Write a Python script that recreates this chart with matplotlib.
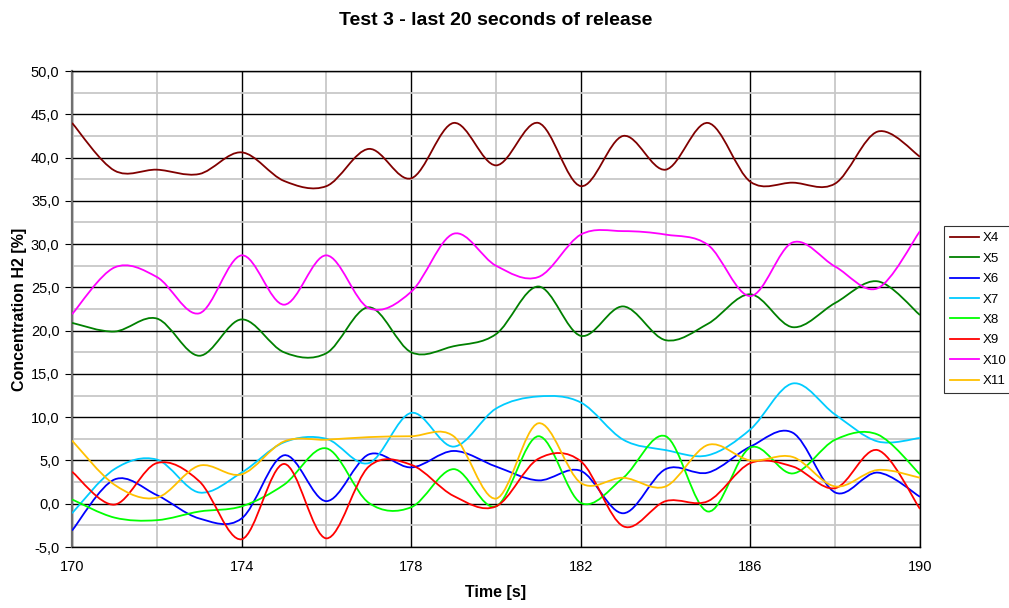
import matplotlib.pyplot as plt
import numpy as np
from matplotlib.path import Path
from matplotlib.patches import PathPatch
from matplotlib.lines import Line2D
from matplotlib.ticker import FixedLocator, MultipleLocator, FuncFormatter

plt.rcParams['font.family'] = ['Liberation Sans', 'DejaVu Sans']

# time axis, one reading per second
time_s = np.arange(170, 191)

x4 = [44.0, 38.5, 38.6, 38.1, 40.6, 37.3, 36.7, 41.0, 37.6, 44.0, 39.1,
      44.0, 36.7, 42.5, 38.6, 44.0, 37.2, 37.1, 37.0, 43.0, 40.1]
x5 = [20.9, 19.9, 21.4, 17.1, 21.3, 17.5, 17.4, 22.7, 17.5, 18.2, 19.6,
      25.1, 19.4, 22.8, 18.9, 20.8, 24.2, 20.4, 23.2, 25.7, 21.8]
x6 = [-3.1, 2.8, 1.0, -1.7, -1.7, 5.6, 0.3, 5.7, 4.2, 6.1, 4.3,
      2.7, 3.8, -1.1, 4.0, 3.6, 6.6, 8.2, 1.3, 3.6, 0.8]
x7 = [-1.1, 4.0, 5.1, 1.3, 3.6, 7.1, 7.5, 4.7, 10.5, 6.6, 11.0,
      12.4, 11.7, 7.4, 6.2, 5.6, 8.6, 13.9, 10.3, 7.2, 7.6]
x8 = [0.5, -1.6, -1.9, -0.9, -0.3, 2.2, 6.4, 0.1, -0.4, 4.0, -0.3,
      7.8, 0.1, 3.0, 7.8, -0.9, 6.5, 3.5, 7.4, 8.0, 3.4]
x9 = [3.7, -0.1, 4.7, 2.6, -4.1, 4.6, -4.0, 4.3, 4.5, 0.9, -0.3,
      5.2, 4.9, -2.6, 0.3, 0.3, 4.7, 4.3, 1.8, 6.2, -0.6]
x10 = [21.9, 27.3, 26.2, 22.0, 28.7, 23.0, 28.7, 22.6, 24.5, 31.2, 27.5,
       26.2, 31.1, 31.5, 31.1, 29.9, 24.0, 30.2, 27.4, 24.9, 31.5]
x11 = [7.3, 2.2, 0.7, 4.4, 3.4, 7.2, 7.4, 7.7, 7.8, 7.8, 0.6,
       9.3, 2.4, 3.0, 2.0, 6.8, 5.0, 5.4, 2.0, 3.9, 3.0]

x_ticks = [170, 174, 178, 182, 186, 190]

series = [
    ('X4', x4, '#800000'),
    ('X5', x5, '#008000'),
    ('X6', x6, '#0000FF'),
    ('X7', x7, '#00CCFF'),
    ('X8', x8, '#00FF00'),
    ('X9', x9, '#FF0000'),
    ('X10', x10, '#FF00FF'),
    ('X11', x11, '#FFC000'),
]


def smooth_path(xs, ys):
    # bezier spline through the points, like the smoothed lines of a spreadsheet
    pts = np.column_stack([xs, ys]).astype(float)
    ext = np.vstack([pts[0], pts, pts[-1]])
    verts = [pts[0]]
    codes = [Path.MOVETO]
    for i in range(len(pts) - 1):
        p0, p1, p2, p3 = ext[i], ext[i + 1], ext[i + 2], ext[i + 3]
        verts += [p1 + (p2 - p0) / 6.0, p2 - (p3 - p1) / 6.0, p2]
        codes += [Path.CURVE4] * 3
    return Path(verts, codes)


fig = plt.figure(figsize=(10.09, 6.08), dpi=100)
ax = fig.add_axes([0.0714, 0.1003, 0.8404, 0.7829])

ax.set_xlim(170, 190)
ax.set_ylim(-5, 50)

# grid: grey minor, black major
ax.xaxis.set_major_locator(FixedLocator(x_ticks))
ax.xaxis.set_minor_locator(FixedLocator([t + 2 for t in x_ticks[:-1]]))
ax.yaxis.set_major_locator(MultipleLocator(5))
ax.yaxis.set_minor_locator(MultipleLocator(2.5))
ax.grid(which='minor', color='#C8C8C8', linewidth=1.3)
ax.grid(which='major', color='black', linewidth=1.0)
ax.set_axisbelow(True)

for name, vals, col in series:
    ax.add_patch(PathPatch(smooth_path(time_s, vals), fill=False,
                           edgecolor=col, linewidth=1.3, zorder=3))

ax.yaxis.set_major_formatter(FuncFormatter(lambda v, p: f'{v:.1f}'.replace('.', ',')))
ax.tick_params(axis='both', which='major', labelsize=10.5)
ax.tick_params(axis='y', which='major', length=5, color='black', pad=4)
ax.tick_params(axis='x', which='major', length=0, pad=9)
ax.tick_params(which='minor', length=0)
for s in ax.spines.values():
    s.set_color('black')
    s.set_linewidth(1.0)
ax.spines['left'].set_color('#707070')
ax.spines['left'].set_linewidth(1.6)

ax.set_title('Test 3 - last 20 seconds of release', fontsize=14,
             fontweight='bold', pad=33)
ax.set_xlabel('Time [s]', fontsize=11.5, fontweight='bold', labelpad=8)
ax.set_ylabel('Concentration H2 [%]', fontsize=11.5, fontweight='bold', labelpad=3)

handles = [Line2D([], [], color=c, linewidth=1.3, label=n) for n, _, c in series]
leg = fig.legend(handles=handles, loc='upper left', bbox_to_anchor=(0.9356, 0.628),
                 fontsize=9.5, frameon=True, fancybox=False, edgecolor='black',
                 handlelength=2.2, handletextpad=0.3, labelspacing=0.62,
                 borderpad=0.45, borderaxespad=0)
leg.get_frame().set_linewidth(0.8)

fig.savefig('out.png', dpi=100)
